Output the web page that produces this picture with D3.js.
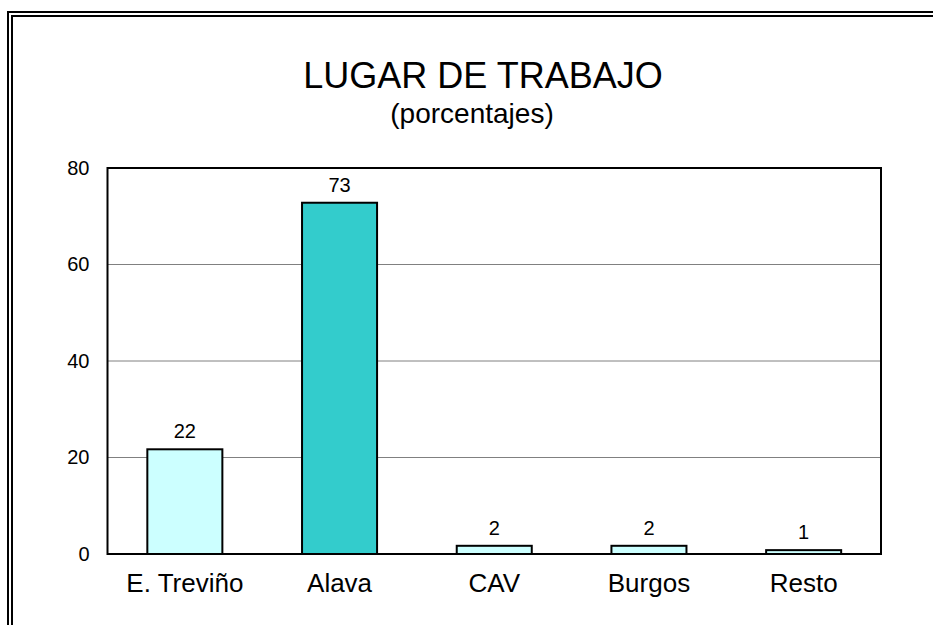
<!DOCTYPE html>
<html>
<head>
<meta charset="utf-8">
<script src="https://cdn.jsdelivr.net/npm/d3@7"></script>
<style>
  body { margin: 0; background: #fff; }
  svg text { font-family: "Liberation Sans", Arial, sans-serif; fill: #000; }
</style>
</head>
<body>
<svg id="chart" width="933" height="625"></svg>
<script>
// chart data
var categories = ["E. Treviño", "Alava", "CAV", "Burgos", "Resto"];
var values = [21.7, 72.8, 1.7, 1.7, 0.8];
var barColors = ["#ccffff", "#33cccc", "#ccffff", "#ccffff", "#ccffff"];
var yTicks = [0, 20, 40, 60, 80];
var titleText = "LUGAR DE TRABAJO";
var subtitleText = "(porcentajes)";

var svg = d3.select("#chart");

var plot = { left: 107.5, top: 168, right: 881, bottom: 554 };

// double frame, cut off at right and bottom
svg.append("path")
    .attr("d", "M8,625V12H933")
    .attr("fill", "none")
    .attr("stroke", "#000")
    .attr("stroke-width", 2);
svg.append("path")
    .attr("d", "M12,625V16H933")
    .attr("fill", "none")
    .attr("stroke", "#000")
    .attr("stroke-width", 2);

svg.append("text")
    .attr("x", 483)
    .attr("y", 88)
    .attr("text-anchor", "middle")
    .attr("font-size", 36)
    .text(titleText);

svg.append("text")
    .attr("x", 472)
    .attr("y", 123)
    .attr("text-anchor", "middle")
    .attr("font-size", 28)
    .text(subtitleText);

var x = d3.scaleBand()
    .domain(categories)
    .range([plot.left, plot.right])
    .paddingInner(0.515)
    .paddingOuter(0.2575);

var y = d3.scaleLinear()
    .domain([0, 80])
    .range([plot.bottom, plot.top]);

// gridlines
svg.append("g")
    .selectAll("line")
    .data(yTicks.filter(function (t) { return t > 0 && t < 80; }))
    .enter()
    .append("line")
    .attr("x1", plot.left)
    .attr("x2", plot.right)
    .attr("y1", function (d) { return y(d); })
    .attr("y2", function (d) { return y(d); })
    .attr("stroke", "#808080")
    .attr("stroke-width", 1);

// y tick labels
var yAxis = svg.append("g")
    .attr("transform", "translate(" + plot.left + ",0)")
    .call(d3.axisLeft(y).tickValues(yTicks).tickSize(0).tickPadding(18));
yAxis.select(".domain").remove();
yAxis.selectAll("text")
    .attr("font-size", 20)
    .attr("font-family", null);

// bars
svg.append("g")
    .selectAll("rect")
    .data(values)
    .enter()
    .append("rect")
    .attr("x", function (d, i) { return x(categories[i]); })
    .attr("y", function (d) { return y(d); })
    .attr("width", x.bandwidth())
    .attr("height", function (d) { return y(0) - y(d); })
    .attr("fill", function (d, i) { return barColors[i]; })
    .attr("stroke", "#000")
    .attr("stroke-width", 2);

// value labels
svg.append("g")
    .selectAll("text")
    .data(values)
    .enter()
    .append("text")
    .attr("x", function (d, i) { return x(categories[i]) + x.bandwidth() / 2; })
    .attr("y", function (d) { return y(d) - 11; })
    .attr("text-anchor", "middle")
    .attr("font-size", 20)
    .text(function (d) { return d3.format(".0f")(d); });

// plot frame
svg.append("rect")
    .attr("x", plot.left)
    .attr("y", plot.top)
    .attr("width", plot.right - plot.left)
    .attr("height", plot.bottom - plot.top)
    .attr("fill", "none")
    .attr("stroke", "#000")
    .attr("stroke-width", 2);

// category labels
var xAxis = svg.append("g")
    .attr("transform", "translate(0," + plot.bottom + ")")
    .call(d3.axisBottom(x).tickSize(0).tickPadding(20));
xAxis.select(".domain").remove();
xAxis.selectAll("text")
    .attr("font-size", 26)
    .attr("font-family", null);
</script>
</body>
</html>
